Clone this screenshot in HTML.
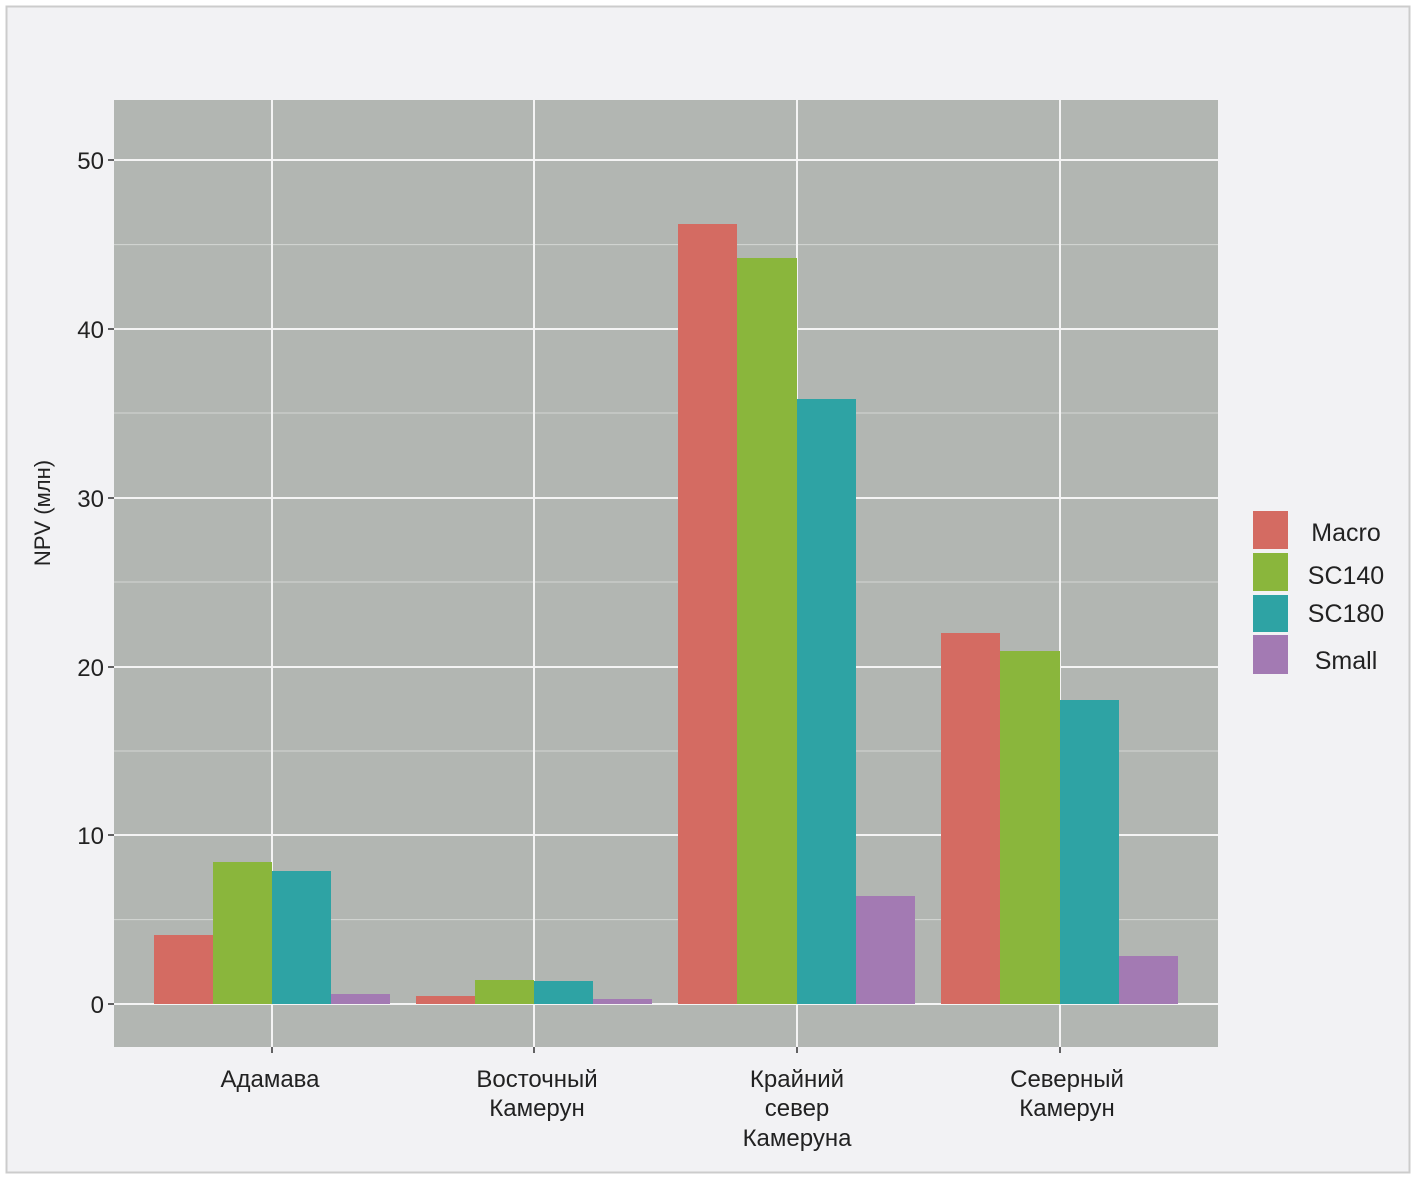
<!DOCTYPE html>
<html><head><meta charset="utf-8"><style>
html,body{margin:0;padding:0;background:#fff;}
svg{display:block;font-family:"Liberation Sans Narrow","Liberation Sans",sans-serif;}
</style></head><body>
<svg width="1416" height="1180" viewBox="0 0 1416 1180" xmlns="http://www.w3.org/2000/svg">
<rect x="0" y="0" width="1416" height="1180" fill="#fff"/>
<rect x="6.5" y="6.5" width="1403" height="1166" fill="#f2f2f4" stroke="#cccccc" stroke-width="2"/>
<rect x="114" y="100" width="1104" height="947" fill="#b2b6b2"/>
<g stroke="#d4d7d4" stroke-width="1">
<line x1="114" x2="1218" y1="919.6" y2="919.6"/><line x1="114" x2="1218" y1="751" y2="751"/>
<line x1="114" x2="1218" y1="582" y2="582"/><line x1="114" x2="1218" y1="413" y2="413"/>
<line x1="114" x2="1218" y1="244.6" y2="244.6"/>
</g>
<g stroke="#f4f4f4" stroke-width="2">
<line x1="114" x2="1218" y1="1004" y2="1004"/><line x1="114" x2="1218" y1="835" y2="835"/>
<line x1="114" x2="1218" y1="667" y2="667"/><line x1="114" x2="1218" y1="498" y2="498"/>
<line x1="114" x2="1218" y1="329" y2="329"/><line x1="114" x2="1218" y1="160" y2="160"/>
<line x1="272" x2="272" y1="100" y2="1047"/><line x1="534" x2="534" y1="100" y2="1047"/>
<line x1="797" x2="797" y1="100" y2="1047"/><line x1="1060" x2="1060" y1="100" y2="1047"/>
</g>
<g>
<rect x="154" y="935" width="59" height="69" fill="#d46b62"/>
<rect x="213" y="862" width="59" height="142" fill="#8ab63c"/>
<rect x="272" y="871" width="59" height="133" fill="#2ea3a4"/>
<rect x="331" y="994" width="59" height="10" fill="#a37ab3"/>
<rect x="416" y="996" width="59" height="8" fill="#d46b62"/>
<rect x="475" y="980" width="59" height="24" fill="#8ab63c"/>
<rect x="534" y="981" width="59" height="23" fill="#2ea3a4"/>
<rect x="593" y="999" width="59" height="5" fill="#a37ab3"/>
<rect x="678" y="224" width="59" height="780" fill="#d46b62"/>
<rect x="737" y="258" width="60" height="746" fill="#8ab63c"/>
<rect x="797" y="399" width="59" height="605" fill="#2ea3a4"/>
<rect x="856" y="896" width="59" height="108" fill="#a37ab3"/>
<rect x="941" y="633" width="59" height="371" fill="#d46b62"/>
<rect x="1000" y="651" width="60" height="353" fill="#8ab63c"/>
<rect x="1060" y="700" width="59" height="304" fill="#2ea3a4"/>
<rect x="1119" y="956" width="59" height="48" fill="#a37ab3"/>
</g>
<g stroke="#333" stroke-width="1.5">
<line x1="108" x2="114" y1="1004" y2="1004"/><line x1="108" x2="114" y1="835" y2="835"/>
<line x1="108" x2="114" y1="667" y2="667"/><line x1="108" x2="114" y1="498" y2="498"/>
<line x1="108" x2="114" y1="329" y2="329"/><line x1="108" x2="114" y1="160" y2="160"/>
<line x1="272" x2="272" y1="1047" y2="1053"/><line x1="534" x2="534" y1="1047" y2="1053"/>
<line x1="797" x2="797" y1="1047" y2="1053"/><line x1="1060" x2="1060" y1="1047" y2="1053"/>
</g>
<g font-size="24" fill="#222" text-anchor="end">
<text x="104" y="1013">0</text><text x="104" y="844">10</text><text x="104" y="676">20</text>
<text x="104" y="507">30</text><text x="104" y="338">40</text><text x="104" y="169">50</text>
</g>
<g font-size="24" fill="#222" text-anchor="middle">
<text x="270" y="1087">Адамава</text>
<text x="537" y="1087">Восточный</text><text x="537" y="1116">Камерун</text>
<text x="797" y="1087">Крайний</text><text x="797" y="1116">север</text><text x="797" y="1146">Камеруна</text>
<text x="1067" y="1087">Северный</text><text x="1067" y="1116">Камерун</text>
</g>
<text transform="translate(50,513) rotate(-90)" font-size="22" fill="#222" text-anchor="middle">NPV (млн)</text>
<g>
<rect x="1253" y="511" width="35" height="38" fill="#d46b62"/>
<rect x="1253" y="553" width="35" height="38" fill="#8ab63c"/>
<rect x="1253" y="595" width="35" height="37" fill="#2ea3a4"/>
<rect x="1253" y="635" width="35" height="39" fill="#a37ab3"/>
</g>
<g font-size="25" fill="#222" text-anchor="middle">
<text x="1346" y="541">Macro</text><text x="1346" y="584">SC140</text>
<text x="1346" y="622">SC180</text><text x="1346" y="669">Small</text>
</g>
</svg>
</body></html>
